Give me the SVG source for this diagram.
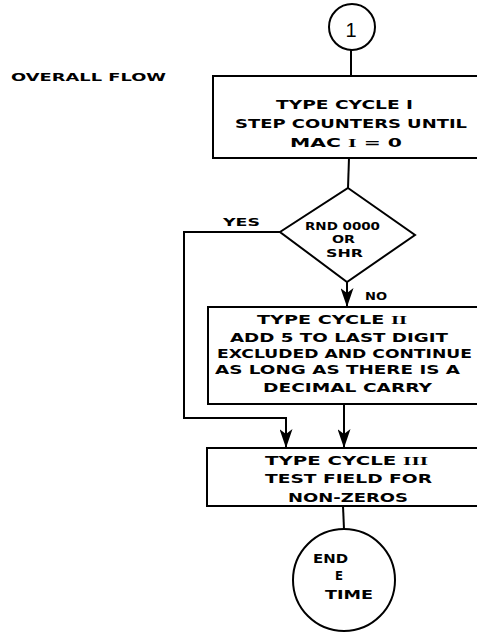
<svg xmlns="http://www.w3.org/2000/svg" width="477" height="635" viewBox="0 0 477 635">
<style>
.shape{fill:#fff;stroke:#000;stroke-width:2}
.line{fill:none;stroke:#000;stroke-width:2}
text{font-family:"DejaVu Sans","Liberation Sans",sans-serif;font-weight:bold;font-size:12.5px;fill:#000}
.sm{font-size:11px}
.xs{font-size:10px}
.rn{font-family:"Liberation Serif","DejaVu Serif",serif;font-weight:bold;font-size:13.5px}
</style>
<defs>
<marker id="arr" markerUnits="userSpaceOnUse" markerWidth="19" markerHeight="13" refX="19" refY="6.5" viewBox="0 0 19 13" orient="auto">
<path d="M0,0 L19,6.5 L0,13 L5,6.5 Z" fill="#000"/>
</marker>
</defs>
<rect width="477" height="635" fill="#fff"/>
<text x="11" y="81" textLength="155" lengthAdjust="spacingAndGlyphs" class="sm">OVERALL FLOW</text>
<g id="connectors">
<line class="line" x1="351" y1="50" x2="351" y2="76"/>
<line class="line" x1="349" y1="158" x2="348" y2="188"/>
<polyline class="line" points="280,232 184,232 184,418 286,418 286,448" marker-end="url(#arr)"/>
<line class="line" x1="347" y1="282" x2="347" y2="307" marker-end="url(#arr)"/>
<line class="line" x1="344" y1="404" x2="344" y2="448" marker-end="url(#arr)"/>
<line class="line" x1="343" y1="506" x2="344" y2="529"/>
<text x="223" y="226" textLength="37" lengthAdjust="spacingAndGlyphs" class="sm">YES</text>
<text x="365" y="300" textLength="22" lengthAdjust="spacingAndGlyphs" class="sm">NO</text>
</g>
<g id="start">
<circle class="shape" cx="352" cy="27" r="23"/>
<text x="351" y="37" text-anchor="middle" style="font-family:'Liberation Sans',sans-serif;font-weight:normal;font-size:20px">1</text>
</g>
<g id="type-cycle-1">
<rect class="shape" x="213" y="76" width="280" height="82"/>
<text x="276" y="109" textLength="137" lengthAdjust="spacingAndGlyphs">TYPE CYCLE I</text>
<text x="235" y="128" textLength="232" lengthAdjust="spacingAndGlyphs">STEP COUNTERS UNTIL</text>
<text x="290" y="147" textLength="112" lengthAdjust="spacingAndGlyphs">MAC <tspan class="rn">I</tspan> = 0</text>
</g>
<g id="decision">
<polygon class="shape" points="348,188 415,235 347,282 280,232"/>
<text x="305" y="230" textLength="75" lengthAdjust="spacingAndGlyphs" class="xs">RND 0000</text>
<text x="332" y="243" textLength="23" lengthAdjust="spacingAndGlyphs" class="xs">OR</text>
<text x="326" y="257" textLength="37" lengthAdjust="spacingAndGlyphs" class="sm">SHR</text>
</g>
<g id="type-cycle-2">
<rect class="shape" x="208" y="307" width="285" height="97"/>
<text x="257" y="324" textLength="150" lengthAdjust="spacingAndGlyphs">TYPE CYCLE <tspan class="rn">II</tspan></text>
<text x="230" y="342" textLength="218" lengthAdjust="spacingAndGlyphs">ADD 5 TO LAST DIGIT</text>
<text x="217" y="358" textLength="255" lengthAdjust="spacingAndGlyphs">EXCLUDED AND CONTINUE</text>
<text x="215" y="374" textLength="245" lengthAdjust="spacingAndGlyphs">AS LONG AS THERE IS A</text>
<text x="263" y="392" textLength="169" lengthAdjust="spacingAndGlyphs">DECIMAL CARRY</text>
</g>
<g id="type-cycle-3">
<rect class="shape" x="207" y="448" width="286" height="58"/>
<text x="265" y="465" textLength="163" lengthAdjust="spacingAndGlyphs">TYPE CYCLE <tspan class="rn">III</tspan></text>
<text x="265" y="483" textLength="167" lengthAdjust="spacingAndGlyphs">TEST FIELD FOR</text>
<text x="288" y="502" textLength="120" lengthAdjust="spacingAndGlyphs">NON-ZEROS</text>
</g>
<g id="end">
<circle class="shape" cx="344" cy="580" r="51"/>
<text x="313" y="563" textLength="35" lengthAdjust="spacingAndGlyphs">END</text>
<text x="335" y="580" textLength="8" lengthAdjust="spacingAndGlyphs">E</text>
<text x="325" y="599" textLength="48" lengthAdjust="spacingAndGlyphs">TIME</text>
</g>
</svg>
